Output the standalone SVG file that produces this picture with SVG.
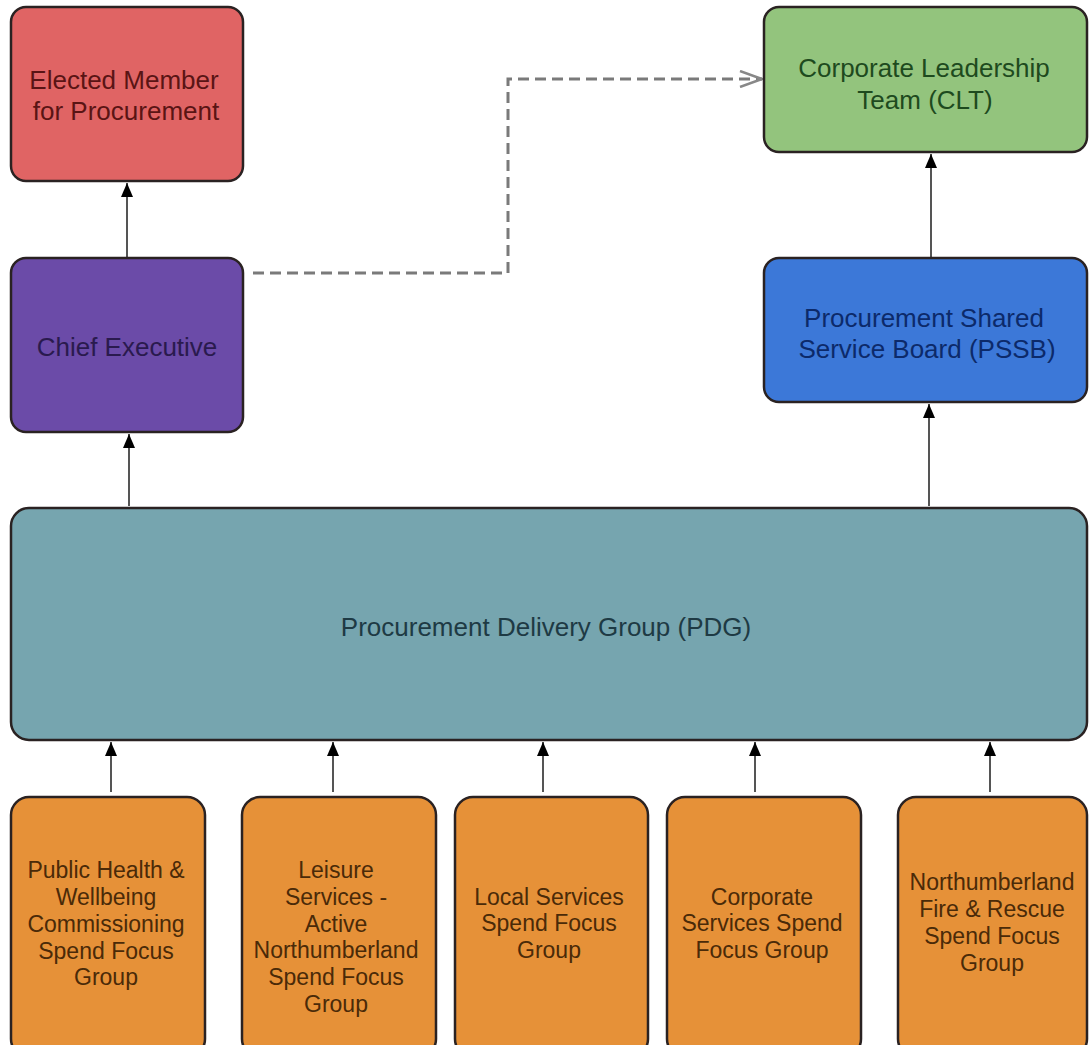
<svg xmlns="http://www.w3.org/2000/svg" width="1089" height="1045" viewBox="0 0 1089 1045">
<defs>
<style>
.box{stroke:#2a2222;stroke-width:2.5}
.t{font-family:"Liberation Sans",Arial,sans-serif;text-anchor:middle}
.big{font-size:26px}
.sm{font-size:23px}
.ln{stroke:#555;stroke-width:2;fill:none}
</style>
<marker id="ah" viewBox="0 0 14 12" refX="14" refY="6" markerWidth="14" markerHeight="12" markerUnits="userSpaceOnUse" orient="auto">
<path d="M0,0 L14,6 L0,12 Z" fill="#000"/>
</marker>
<marker id="open" viewBox="0 0 24 18" refX="23" refY="9" markerWidth="24" markerHeight="18" markerUnits="userSpaceOnUse" orient="auto">
<path d="M1,1 L23,9 L1,17" fill="none" stroke="#888" stroke-width="2.5"/>
</marker>
</defs>
<rect width="1089" height="1045" fill="#fff"/>
<g id="connectors">
<line class="ln" x1="127" y1="258" x2="127" y2="183" marker-end="url(#ah)"/>
<line class="ln" x1="129" y1="506" x2="129" y2="434" marker-end="url(#ah)"/>
<line class="ln" x1="931" y1="258" x2="931" y2="154" marker-end="url(#ah)"/>
<line class="ln" x1="929" y1="506" x2="929" y2="404" marker-end="url(#ah)"/>
<line class="ln" x1="111" y1="792" x2="111" y2="742" marker-end="url(#ah)"/>
<line class="ln" x1="333" y1="792" x2="333" y2="742" marker-end="url(#ah)"/>
<line class="ln" x1="543" y1="792" x2="543" y2="742" marker-end="url(#ah)"/>
<line class="ln" x1="755" y1="792" x2="755" y2="742" marker-end="url(#ah)"/>
<line class="ln" x1="990" y1="792" x2="990" y2="742" marker-end="url(#ah)"/>
<path d="M253,273 H508 V79 H762" fill="none" stroke="#7a7a7a" stroke-width="3" stroke-dasharray="11,6" marker-end="url(#open)"/>
</g>
<g id="elected">
<rect class="box" x="11" y="7" width="232" height="174" rx="15" fill="#e06464"/>
<text class="t big" fill="#5a1414" x="124" y="89">Elected Member</text>
<text class="t big" fill="#5a1414" x="126" y="120">for Procurement</text>
</g>
<g id="chief">
<rect class="box" x="11" y="258" width="232" height="174" rx="15" fill="#6b4ba8"/>
<text class="t big" fill="#2a1a4e" x="127" y="356">Chief Executive</text>
</g>
<g id="clt">
<rect class="box" x="764" y="7" width="323" height="145" rx="15" fill="#93c47d"/>
<text class="t big" fill="#1e4a1e" x="924" y="77">Corporate Leadership</text>
<text class="t big" fill="#1e4a1e" x="925" y="109">Team (CLT)</text>
</g>
<g id="pssb">
<rect class="box" x="764" y="258" width="323" height="144" rx="15" fill="#3c78d8"/>
<text class="t big" fill="#0c2a6a" x="924" y="327">Procurement Shared</text>
<text class="t big" fill="#0c2a6a" x="927" y="358">Service Board (PSSB)</text>
</g>
<g id="pdg">
<rect class="box" x="11" y="508" width="1076" height="232" rx="18" fill="#76a5af"/>
<text class="t big" fill="#1e3a44" x="546" y="636">Procurement Delivery Group (PDG)</text>
</g>
<g id="sfg1">
<rect class="box" x="11" y="797" width="194" height="260" rx="18" fill="#e69138"/>
<text class="t sm" fill="#4a2a08"><tspan x="106" y="878">Public Health &amp;</tspan><tspan x="106" y="905">Wellbeing</tspan><tspan x="106" y="932">Commissioning</tspan><tspan x="106" y="959">Spend Focus</tspan><tspan x="106" y="985">Group</tspan></text>
</g>
<g id="sfg2">
<rect class="box" x="242" y="797" width="194" height="260" rx="18" fill="#e69138"/>
<text class="t sm" fill="#4a2a08"><tspan x="336" y="878">Leisure</tspan><tspan x="336" y="905">Services -</tspan><tspan x="336" y="932">Active</tspan><tspan x="336" y="958">Northumberland</tspan><tspan x="336" y="985">Spend Focus</tspan><tspan x="336" y="1012">Group</tspan></text>
</g>
<g id="sfg3">
<rect class="box" x="455" y="797" width="193" height="260" rx="18" fill="#e69138"/>
<text class="t sm" fill="#4a2a08"><tspan x="549" y="905">Local Services</tspan><tspan x="549" y="931">Spend Focus</tspan><tspan x="549" y="958">Group</tspan></text>
</g>
<g id="sfg4">
<rect class="box" x="667" y="797" width="194" height="260" rx="18" fill="#e69138"/>
<text class="t sm" fill="#4a2a08"><tspan x="762" y="905">Corporate</tspan><tspan x="762" y="931">Services Spend</tspan><tspan x="762" y="958">Focus Group</tspan></text>
</g>
<g id="sfg5">
<rect class="box" x="898" y="797" width="189" height="260" rx="18" fill="#e69138"/>
<text class="t sm" fill="#4a2a08"><tspan x="992" y="890">Northumberland</tspan><tspan x="992" y="917">Fire &amp; Rescue</tspan><tspan x="992" y="944">Spend Focus</tspan><tspan x="992" y="971">Group</tspan></text>
</g>
</svg>
